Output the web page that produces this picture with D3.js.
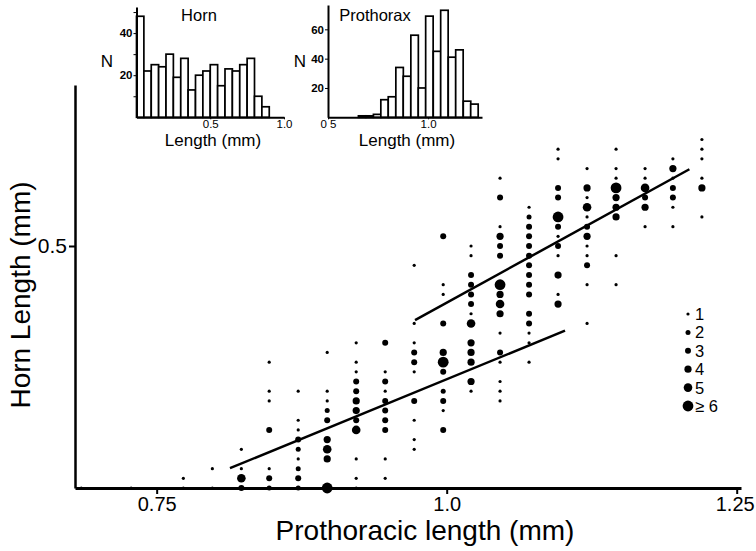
<!DOCTYPE html>
<html><head><meta charset="utf-8">
<script src="https://cdn.jsdelivr.net/npm/d3@7"></script>
<style>
body{margin:0;background:#fff;}
svg{display:block;font-family:"Liberation Sans",Arial,Helvetica,sans-serif;}
</style></head>
<body><svg id="c" width="756" height="551"></svg>
<script>
// ---------- main scatter data (prothoracic length mm, horn length mm, number of beetles) ----------
const dotX = [
 0.685, 0.728,
 0.773,0.773,
 0.798,0.798,
 0.823,0.823,0.823,0.823,
 0.847,0.847,0.847,0.847,0.847,0.847,0.847,
 0.872,0.872,0.872,0.872,0.872,0.872,0.872,0.872,0.872,
 0.897,0.897,0.897,0.897,0.897,0.897,0.897,0.897,0.897,
 0.922,0.922,0.922,0.922,0.922,0.922,0.922,0.922,0.922,0.922,0.922,0.922,
 0.947,0.947,0.947,0.947,0.947,0.947,0.947,0.947,0.947,0.947,
 0.972,0.972,0.972,0.972,0.972,0.972,0.972,0.972,0.972,0.972,
 0.997,0.997,0.997,0.997,0.997,0.997,0.997,0.997,0.997,0.997,0.997,
 1.021,1.021,1.021,1.021,1.021,1.021,1.021,1.021,1.021,1.021,1.021,1.021,1.021,
 1.046,1.046,1.046,1.046,1.046,1.046,1.046,1.046,1.046,1.046,1.046,1.046,1.046,1.046,1.046,1.046,
 1.071,1.071,1.071,1.071,1.071,1.071,1.071,1.071,1.071,1.071,1.071,1.071,1.071,1.071,1.071,
 1.096,1.096,1.096,1.096,1.096,1.096,1.096,1.096,1.096,1.096,1.096,1.096,
 1.121,1.121,1.121,1.121,1.121,1.121,1.121,1.121,1.121,1.121,1.121,1.121,
 1.146,1.146,1.146,1.146,1.146,1.146,1.146,1.146,1.146,
 1.171,1.171,1.171,1.171,1.171,1.171,
 1.195,1.195,1.195,1.195,1.195,1.195,1.195,
 1.220,1.220,1.220,1.220,1.220,1.220
];
const dotY = [
 0.00, 0.00,
 0.00,0.02,
 0.00,0.04,
 0.00,0.02,0.04,0.08,
 0.00,0.02,0.04,0.12,0.18,0.20,0.26,
 0.00,0.02,0.04,0.06,0.08,0.10,0.12,0.14,0.20,
 0.00,0.06,0.08,0.10,0.14,0.16,0.18,0.20,0.28,
 0.00,0.02,0.06,0.12,0.14,0.16,0.18,0.20,0.22,0.24,0.26,0.30,
 0.02,0.06,0.12,0.14,0.16,0.18,0.20,0.22,0.24,0.30,
 0.08,0.10,0.14,0.18,0.24,0.26,0.28,0.30,0.34,0.46,
 0.12,0.16,0.18,0.20,0.24,0.26,0.28,0.34,0.40,0.42,0.52,
 0.20,0.22,0.26,0.28,0.30,0.34,0.36,0.38,0.40,0.42,0.44,0.48,0.50,
 0.18,0.20,0.22,0.26,0.28,0.32,0.36,0.38,0.40,0.42,0.48,0.50,0.52,0.54,0.60,0.64,
 0.26,0.30,0.32,0.34,0.36,0.40,0.42,0.44,0.46,0.48,0.50,0.52,0.54,0.56,0.58,
 0.38,0.40,0.44,0.48,0.50,0.52,0.54,0.56,0.60,0.62,0.68,0.70,
 0.34,0.42,0.46,0.48,0.50,0.52,0.54,0.56,0.58,0.60,0.62,0.66,
 0.42,0.48,0.56,0.58,0.60,0.62,0.64,0.66,0.70,
 0.54,0.58,0.60,0.62,0.64,0.66,
 0.54,0.58,0.60,0.62,0.64,0.66,0.68,
 0.56,0.62,0.64,0.68,0.70,0.72
];
const dotN = [
 1, 1,
 1,1,
 1,1,
 3,5,1,1,
 2,3,1,3,1,1,1,
 2,3,2,1,2,3,1,1,1,
 6,4,5,4,3,2,1,1,1,
 1,1,1,5,3,4,4,3,3,1,1,1,
 1,1,3,3,3,3,1,3,1,3,
 1,1,1,3,1,3,3,1,1,1,
 3,1,3,2,3,6,4,3,1,1,3,
 1,4,4,4,4,5,1,3,3,3,3,1,1,
 1,1,1,1,3,1,4,5,4,6,3,3,4,1,3,1,
 1,1,1,3,3,3,3,3,3,3,3,3,3,2,1,
 4,1,4,1,3,1,3,6,3,3,1,1,
 1,1,3,1,1,4,3,1,5,1,4,1,
 1,1,4,4,4,6,1,1,1,
 1,4,3,5,1,1,
 1,1,3,3,1,4,1,
 1,4,1,1,1,1
];
// fitted lines (two allometric segments)
const lineLow  = [[0.8132, 0.041], [1.1020, 0.325]];
const lineHigh = [[0.9727, 0.347], [1.2092, 0.6585]];
// legend
const legendCounts = [1,2,3,4,5,6];
const legendLabels = ["1","2","3","4","5","\u2265 6"];
const dotRadius = {1:1.6, 2:2.5, 3:3.0, 4:3.6, 5:4.3, 6:5.4};
// main axis ticks
const xTicks = [0.75, 1.0, 1.25];
const xTickLabels = ["0.75", "1.0", "1.25"];
const yTicks = [0.5];
const yTickLabels = ["0.5"];

// ---------- inset histograms ----------
const hornBinStart = [0.00,0.05,0.10,0.15,0.20,0.25,0.30,0.35,0.40,0.45,0.50,0.55,0.60,0.65,0.70,0.75,0.80,0.85];
const hornCounts   = [48,22,25,24,30,19,28,13,20,22,25,15,23,22,25,28,10,5];
const hornBinWidth = 0.05;
const proBinStart  = [0.652,0.689,0.727,0.764,0.801,0.839,0.876,0.914,0.951,0.988,1.026,1.063,1.101,1.138,1.176,1.213];
const proCounts    = [1,1,2,12,14,34,28,56,20,69,45,73,41,46,11,9];
const proBinWidth  = 0.0374;

const svg = d3.select("#c");
const FONT = "Liberation Sans, Arial, sans-serif";

// ---------- main chart ----------
const x = d3.scaleLinear().domain([0.6796, 1.2537]).range([75, 741]);
const y = d3.scaleLinear().domain([0, 0.8326]).range([488, 85]);

const xAx = svg.append("g").attr("transform","translate(0,488)")
  .call(d3.axisBottom(x).tickValues(xTicks).tickFormat((d,i)=>xTickLabels[i]).tickSize(6).tickSizeOuter(0).tickPadding(3));
xAx.select(".domain").attr("stroke","#000").attr("stroke-width",3);
xAx.selectAll(".tick line").attr("stroke","#000").attr("stroke-width",2);
xAx.selectAll(".tick text").attr("font-size",20).attr("fill","#000").attr("font-family",FONT);
xAx.selectAll(".tick").filter(d=>d===1.25).select("text").attr("dx",-2);

const yAx = svg.append("g").attr("transform","translate(75,0)")
  .call(d3.axisLeft(y).tickValues(yTicks).tickFormat((d,i)=>yTickLabels[i]).tickSize(6).tickSizeOuter(0).tickPadding(2));
yAx.select(".domain").attr("stroke","#000").attr("stroke-width",2.5);
yAx.selectAll(".tick line").attr("stroke","#000").attr("stroke-width",2);
yAx.selectAll(".tick text").attr("font-size",21).attr("fill","#000").attr("font-family",FONT);

svg.append("text").attr("x",425).attr("y",540).attr("text-anchor","middle")
  .attr("font-size",28).text("Prothoracic length (mm)");
svg.append("text").attr("transform","translate(30,295) rotate(-90)").attr("text-anchor","middle")
  .attr("font-size",28).text("Horn Length (mm)");

// lines
const lg = d3.line().x(d=>x(d[0])).y(d=>y(d[1]));
svg.append("path").attr("d",lg(lineLow)).attr("stroke","#000").attr("stroke-width",2.5).attr("fill","none");
svg.append("path").attr("d",lg(lineHigh)).attr("stroke","#000").attr("stroke-width",2.5).attr("fill","none");

// dots
const dots = dotX.map((v,i)=>({x:v, y:dotY[i], n:dotN[i]}));
svg.append("g").selectAll("circle").data(dots).join("circle")
  .attr("cx",d=>x(d.x)).attr("cy",d=>y(d.y)).attr("r",d=>dotRadius[d.n]).attr("fill","#000");

// legend
const leg = svg.append("g");
const legY = d3.scalePoint().domain(legendCounts).range([314, 406]);
leg.selectAll("circle").data(legendCounts).join("circle")
  .attr("cx",688).attr("cy",d=>legY(d)).attr("r",d=>dotRadius[d]).attr("fill","#000");
leg.selectAll("text").data(legendCounts).join("text")
  .attr("x",695).attr("y",d=>legY(d)+6).attr("font-size",16.5).text((d,i)=>legendLabels[i]);

// ---------- histogram helper ----------
function hist(opts){
  const {bins, counts, width, xs, ys, xTickV, xTickL, yTickV, yTickL, yMinor, title, titleX, nX, labelX} = opts;
  const g = svg.append("g");
  g.selectAll("rect").data(counts).join("rect")
    .attr("x",(d,i)=>xs(bins[i])).attr("width",(d,i)=>xs(bins[i]+width)-xs(bins[i]))
    .attr("y",d=>ys(d)).attr("height",d=>ys(0)-ys(d))
    .attr("fill","#fff").attr("stroke","#000").attr("stroke-width",1.7);
  const xa = g.append("g").attr("transform",`translate(0,${ys(0)})`)
    .call(d3.axisBottom(xs).tickValues(xTickV).tickFormat((d,i)=>xTickL[i]).tickSize(2).tickSizeOuter(0).tickPadding(1));
  xa.select(".domain").attr("stroke-width",2);
  xa.selectAll("text").attr("font-size",11.5).attr("fill","#000").attr("font-family",FONT);
  const ya = g.append("g").attr("transform",`translate(${xs.range()[0]},0)`)
    .call(d3.axisLeft(ys).tickValues(yMinor).tickFormat(d=> yTickV.includes(d) ? yTickL[yTickV.indexOf(d)] : "").tickSize(3).tickSizeOuter(0).tickPadding(1));
  ya.select(".domain").attr("stroke-width",2);
  ya.selectAll("text").attr("font-size",11.5).attr("font-weight","bold").attr("fill","#000").attr("font-family",FONT);
  g.append("text").attr("x",titleX).attr("y",21).attr("text-anchor","middle").attr("font-size",16.5).text(title);
  g.append("text").attr("x",nX).attr("y",67).attr("text-anchor","middle").attr("font-size",17).text("N");
  g.append("text").attr("x",labelX).attr("y",146).attr("text-anchor","middle").attr("font-size",17).text("Length (mm)");
}

hist({bins:hornBinStart, counts:hornCounts, width:hornBinWidth,
  xs:d3.scaleLinear().domain([0,1]).range([136.5,284]),
  ys:d3.scaleLinear().domain([0,52.4]).range([117.3,7]),
  xTickV:[0.5,1.0], xTickL:["0.5","1.0"], yTickV:[20,40], yTickL:["20","40"], yMinor:[10,20,30,40,50],
  title:"Horn", titleX:199, nX:107, labelX:213});

hist({bins:proBinStart, counts:proCounts, width:proBinWidth,
  xs:d3.scaleLinear().domain([0.5,1.2695]).range([328,482]),
  ys:d3.scaleLinear().domain([0,76.6]).range([117.3,5]),
  xTickV:[0.5,1.0], xTickL:["0 5","1.0"], yTickV:[20,40,60], yTickL:["20","40","60"], yMinor:[20,40,60],
  title:"Prothorax", titleX:375, nX:300, labelX:407});
</script></body></html>
